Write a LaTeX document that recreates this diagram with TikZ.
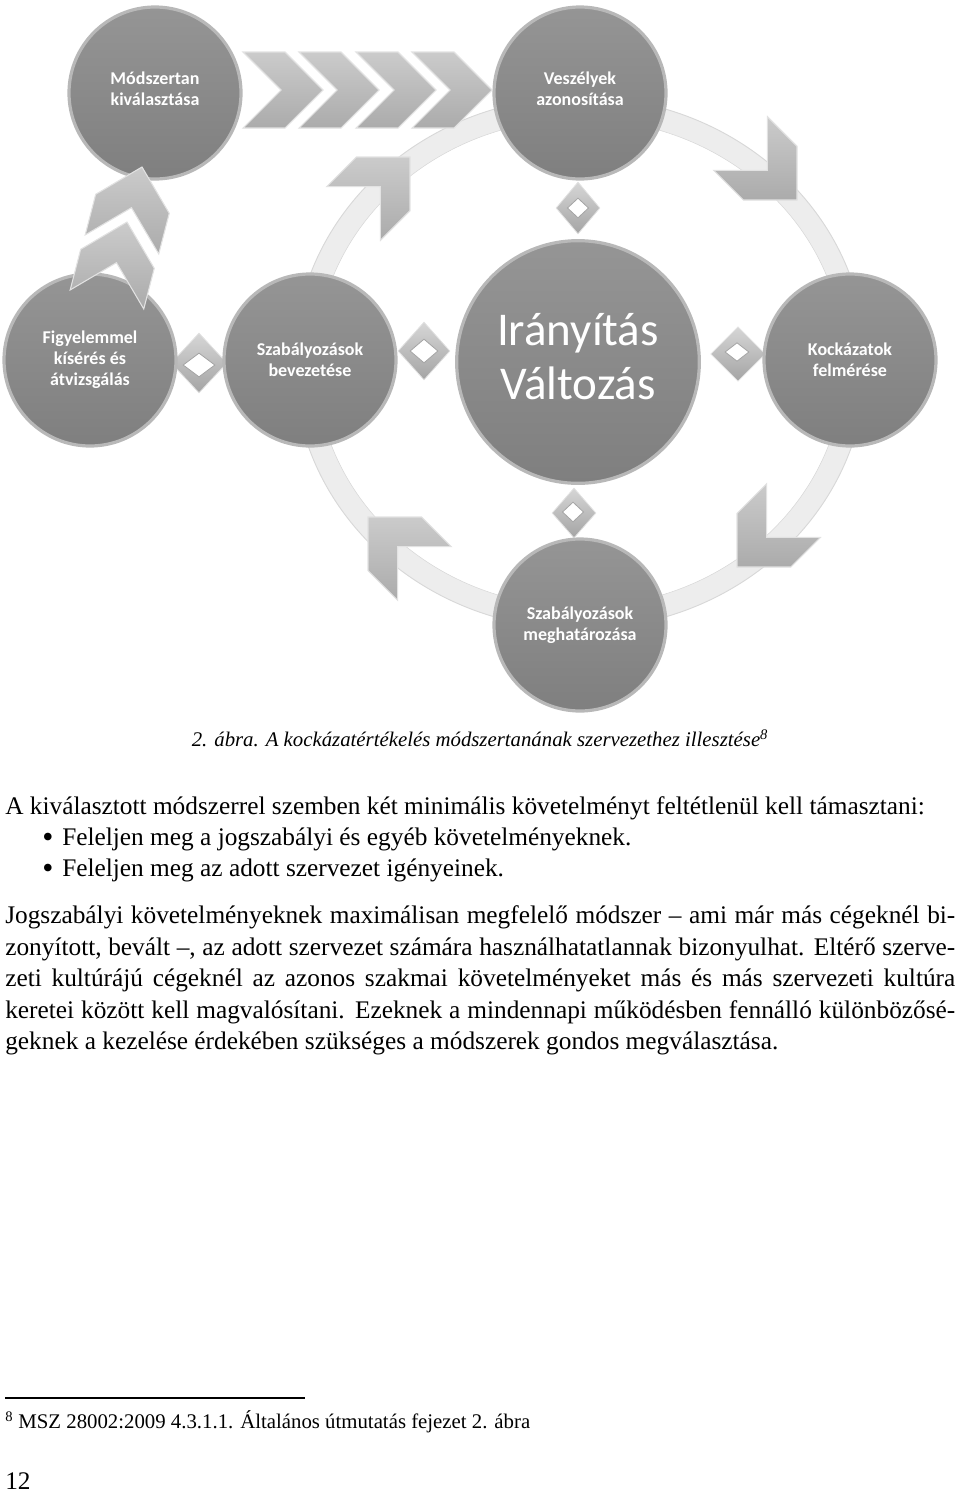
\documentclass[tikz,border=0pt]{standalone}
\usepackage{fontspec}
\usepackage{graphicx}
\setmainfont{Liberation Serif}
\newfontfamily\diafont{Carlito}
\usetikzlibrary{shapes.geometric}
\definecolor{circa}{HTML}{959595}
\definecolor{circb}{HTML}{7F7F7F}
\definecolor{rimc}{HTML}{B8B8B8}
\definecolor{ringc}{HTML}{EDEDED}
\definecolor{ringe}{HTML}{D8D8D8}
\definecolor{chevt}{HTML}{CBCBCB}
\definecolor{chevb}{HTML}{ABABAB}
\definecolor{cheve}{HTML}{E2E2E2}
\definecolor{diat}{HTML}{D6D6D6}
\definecolor{diab}{HTML}{A4A4A4}
\tikzset{
  bub/.style={circle, inner sep=0pt, minimum size=#1, top color=circa, bottom color=circb, draw=rimc, line width=2.4pt, text=white, align=center},
  smalllab/.style={font=\diafont\bfseries\fontsize{13.5}{15.75}\selectfont},
  biglab/.style={font=\diafont\fontsize{35.25}{40.5}\selectfont},
  chevst/.style={top color=chevt, bottom color=chevb, draw=cheve, line width=0.8pt, line join=miter},
  diaout/.style={diamond, inner sep=0pt, top color=diat, bottom color=diab, draw=cheve, line width=0.6pt},
  diain/.style={diamond, inner sep=0pt, fill=white, draw=diab, line width=0.6pt},
  bodytxt/.style={font=\fontsize{19}{23.6}\selectfont, inner sep=0pt, anchor=base west},
  smalltxt/.style={font=\fontsize{15.6}{18}\selectfont, inner sep=0pt},
}
\newcommand\chevron[3]{%
  \path[chevst, shift={(#1,#2)}, rotate=#3] (0,0) -- (-38,-38) -- (-80,-38) -- (-42,0) -- (-80,38) -- (-38,38) -- cycle;}
\newcommand\bigbullet{\raisebox{-1.7pt}{\scalebox{1.25}{•}}}
\begin{document}
\begin{tikzpicture}[x=0.75pt,y=-0.75pt]
\useasboundingbox (0,0) rectangle (960,1492);
% ring
\draw[ringc, line width=16.5pt] (580,363) ellipse [x radius=275, y radius=255];
\draw[ringe, line width=0.7pt] (580,363) ellipse [x radius=286, y radius=266];
\draw[ringe, line width=0.4pt] (580,363) ellipse [x radius=264, y radius=244];
% diamonds
\node[diaout, minimum width=42pt, minimum height=45pt] (d1) at (199,363) {};
\node[diain, minimum width=24pt, minimum height=18pt] (d1i) at (199,365) {};
\node[diaout, minimum width=39pt, minimum height=43.5pt] (d2) at (424,351) {};
\node[diain, minimum width=21pt, minimum height=18pt] (d2i) at (424,351) {};
\node[diaout, minimum width=41pt, minimum height=41pt] (d3) at (738,354) {};
\node[diain, minimum width=18pt, minimum height=14pt] (d3i) at (737,352) {};
\node[diaout, minimum width=33pt, minimum height=39pt] (d4) at (578,208) {};
\node[diain, minimum width=16pt, minimum height=15pt] (d4i) at (578,208) {};
\node[diaout, minimum width=33pt, minimum height=37.5pt] (d5) at (574,513) {};
\node[diain, minimum width=16pt, minimum height=15pt] (d5i) at (573,512) {};
% circles
\node[bub=129pt, smalllab, text depth=6pt] (m) at (155,93) {Módszertan\\kiválasztása};
\node[bub=129pt, smalllab, text depth=6pt] (v) at (580,93) {Veszélyek\\azonosítása};
\node[bub=129pt, smalllab] (f) at (90,360) {Figyelemmel\\kísérés és\\átvizsgálás};
\node[bub=129pt, smalllab] (b) at (310,360) {Szabályozások\\bevezetése};
\node[bub=182pt, biglab, text depth=8pt] (c) at (578,362) {Irányítás\\Változás};
\node[bub=129pt, smalllab] (k) at (850,360) {Kockázatok\\felmérése};
\node[bub=129pt, smalllab] (h) at (580,625) {Szabályozások\\meghatározása};
% chevrons
\chevron{323}{90}{0}
\chevron{379}{90}{0}
\chevron{436}{90}{0}
\chevron{492}{90}{0}
\chevron{142}{167}{75.5}
\chevron{127}{222}{75.5}
\chevron{410}{157}{45}
\chevron{797}{200}{-45}
\chevron{737}{567}{-135}
\chevron{368}{517}{135}
% text
\node[smalltxt, anchor=base, font=\itshape\fontsize{15.6}{18}\selectfont] (cap) at (480,746) {2. ábra. A kockázatértékelés módszertanának szervezethez illesztése\textsuperscript{8}};
\node[bodytxt] (l1) at (5,814) {A kiválasztott módszerrel szemben két minimális követelményt feltétlenül kell támasztani:};
\node[bodytxt] (bu1) at (42,845) {\bigbullet};
\node[bodytxt] (t1) at (62,845) {Feleljen meg a jogszabályi és egyéb követelményeknek.};
\node[bodytxt] (bu2) at (42,876) {\bigbullet};
\node[bodytxt] (t2) at (62,876) {Feleljen meg az adott szervezet igényeinek.};
\node[bodytxt] (p1) at (5,923) {\hbox to 712.5pt{Jogszabályi követelményeknek maximálisan megfelelő módszer – ami már más cégeknél bi-}};
\node[bodytxt] (p2) at (5,955) {\hbox to 712.5pt{zonyított, bevált –, az adott szervezet számára használhatatlannak bizonyulhat. Eltérő szerve-}};
\node[bodytxt] (p3) at (5,986) {\hbox to 712.5pt{zeti kultúrájú cégeknél az azonos szakmai követelményeket más és más szervezeti kultúra}};
\node[bodytxt] (p4) at (5,1018) {\hbox to 712.5pt{keretei között kell magvalósítani. Ezeknek a mindennapi működésben fennálló különbözősé-}};
\node[bodytxt] (p5) at (5,1049) {geknek a kezelése érdekében szükséges a módszerek gondos megválasztása.};
\draw[line width=0.8pt] (5,1398) -- (305,1398);
\node[smalltxt, anchor=base west] (fn) at (5,1428) {\textsuperscript{8} MSZ 28002:2009 4.3.1.1. Általános útmutatás fejezet 2. ábra};
\node[bodytxt] (pg) at (5,1489) {12};
\end{tikzpicture}
\end{document}
